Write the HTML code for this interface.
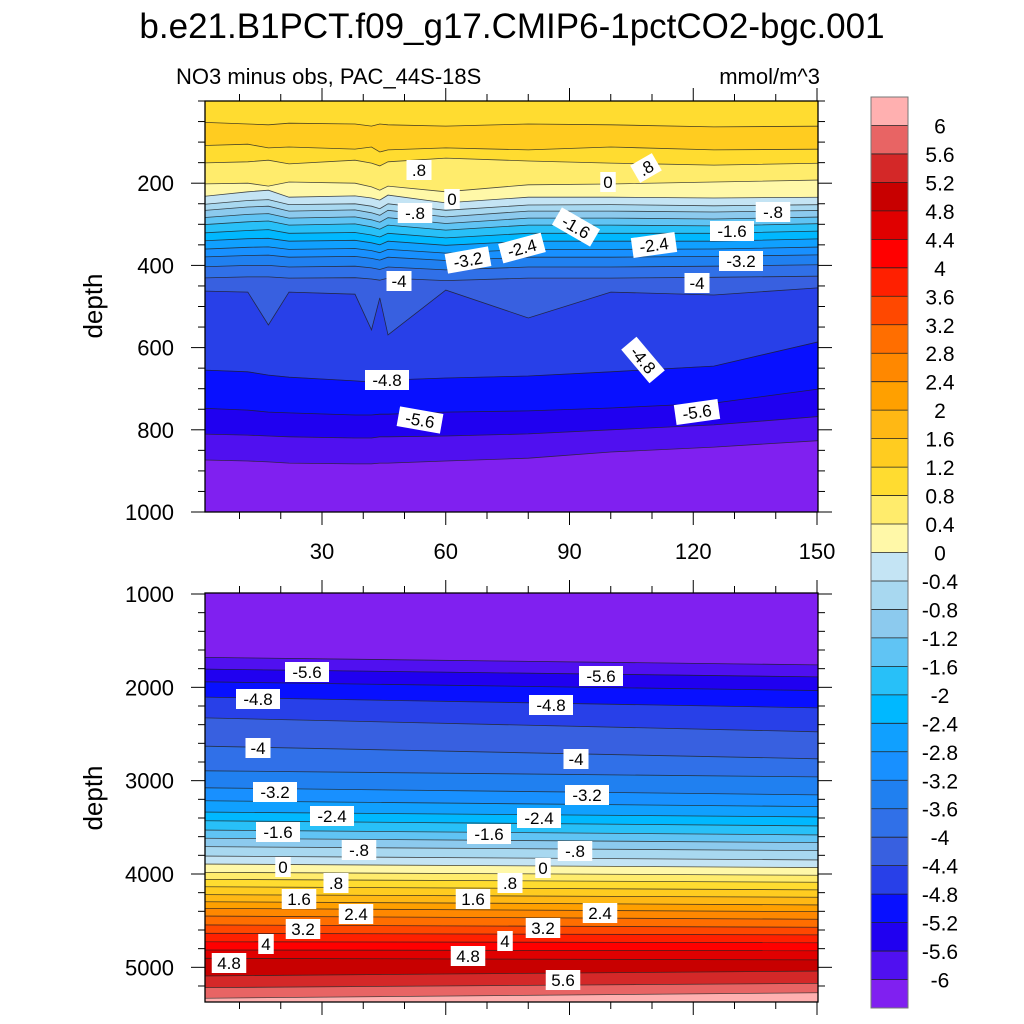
<!DOCTYPE html>
<html><head><meta charset="utf-8"><style>
html,body{margin:0;padding:0;background:#fff;}
svg{display:block;font-family:"Liberation Sans",sans-serif;}
</style></head><body>
<svg id="chart" width="1024" height="1024" viewBox="0 0 1024 1024" xmlns="http://www.w3.org/2000/svg">
<text x="512" y="38" font-size="35" text-anchor="middle">b.e21.B1PCT.f09_g17.CMIP6-1pctCO2-bgc.001</text>
<text x="176" y="84" font-size="22">NO3 minus obs, PAC_44S-18S</text>
<text x="820" y="84" font-size="22" text-anchor="end">mmol/m^3</text>
<text x="102" y="306" font-size="26" text-anchor="middle" transform="rotate(-90 102 306)">depth</text>
<text x="102" y="798" font-size="26" text-anchor="middle" transform="rotate(-90 102 798)">depth</text>
<defs>
<clipPath id="clipTop"><rect x="205" y="101" width="613" height="411"/></clipPath>
<clipPath id="clipBot"><rect x="205" y="593" width="613" height="409"/></clipPath>
</defs>
<g id="topPanel"></g>
<g id="botPanel"></g>
<g id="colorbar"></g>
<g id="labels"></g>
</svg>
<script>
// ---- color scale data ----
const levelColors = ["#8020f0","#5010f0","#2000f0","#0810ff","#2840e8","#3860e0","#3070e8","#2080f0","#1890ff","#10a0ff","#00b8ff","#28c0f8","#60c4f4","#8ccaee","#a8d8f0","#c4e4f4","#fff8a8","#ffec6c","#ffdc30","#ffcc20","#ffb814","#ffa000","#ff8800","#ff6e00","#ff4800","#ff2000","#ff0000","#e00000","#c80000","#d42828","#e86464","#ffb0b0"];
const cbLabels = ["6","5.6","5.2","4.8","4.4","4","3.6","3.2","2.8","2.4","2","1.6","1.2","0.8","0.4","0","-0.4","-0.8","-1.2","-1.6","-2","-2.4","-2.8","-3.2","-3.6","-4","-4.4","-4.8","-5.2","-5.6","-6"];

// ---- top panel data (contour depths at x samples) ----
const topX = [1.5,12,17,22,38,42,44,46,60,80,100,125,150.5];
const topLineLevels = [1.2,1.2,0.8,0.4,0,-0.4,-0.8,-1.2,-1.6,-2,-2.4,-2.8,-3.2,-3.6,-4,-4.4,-4.8,-5.2,-5.6,-6];
const topLineDepths = [
 [51,56,58,54,56,61,56,58,61,56,58,63,61],
 [109,105,114,112,117,112,124,119,114,119,112,119,117],
 [151,148,144,153,144,151,158,148,139,146,151,156,151],
 [202,200,207,197,200,209,217,207,221,204,202,197,192],
 [234,221,217,234,231,236,241,229,248,234,234,236,234],
 [253,242,240,252,250,256,262,250,266,253,252,255,252],
 [268,258,256,268,265,272,278,266,282,268,268,270,266],
 [285,276,274,285,282,289,295,284,298,285,285,287,282],
 [302,294,292,302,299,306,312,302,314,302,302,304,298],
 [322,315,313,322,320,326,331,322,333,322,322,322,316],
 [341,335,334,341,339,345,350,341,351,341,341,341,335],
 [361,356,355,361,359,364,369,361,370,361,361,360,355],
 [380,376,375,380,378,383,387,380,388,380,380,378,374],
 [404,400,400,404,402,406,410,404,411,404,404,402,398],
 [431,428,428,431,430,433,436,431,437,431,431,429,426],
 [462,465,545,465,470,557,479,569,460,528,465,472,453],
 [654,659,667,672,681,684,681,679,674,669,659,645,581],
 [747,752,757,759,764,764,762,762,757,754,747,735,698],
 [810,813,815,817,820,820,817,817,815,810,800,788,766],
 [873,876,878,881,883,883,881,881,876,869,854,842,825]
];
const topBandValues = [1.0,1.4,1.0,0.6,0.2,-0.2,-0.6,-1.0,-1.4,-1.8,-2.2,-2.6,-3.0,-3.4,-3.8,-4.2,-4.6,-5.0,-5.4,-5.8,-6.2];

// ---- bottom panel data ----
const botX = [1.5,150.5];
const botLineLevels = [-6,-5.6,-5.2,-4.8,-4.4,-4,-3.6,-3.2,-2.8,-2.4,-2,-1.6,-1.2,-0.8,-0.4,0,0.4,0.8,1.2,1.6,2,2.4,2.8,3.2,3.6,4,4.4,4.8,5.2,5.6,6];
const botLineDepths = [
 [1678,1761],[1804,1889],[1940,2036],[2104,2221],[2325,2479],[2629,2768],[2893,2961],[3075,3154],
 [3215,3279],[3336,3389],[3429,3486],[3529,3582],[3617,3665],[3707,3750],[3807,3850],[3893,3932],
 [3982,4014],[4057,4089],[4136,4171],[4221,4250],[4297,4332],[4368,4404],[4450,4486],[4546,4571],
 [4635,4653],[4725,4736],[4814,4822],[4903,4921],[5093,5039],[5218,5171],[5332,5272]
];
const botBandValues = [-6.2,-5.8,-5.4,-5.0,-4.6,-4.2,-3.8,-3.4,-3.0,-2.6,-2.2,-1.8,-1.4,-1.0,-0.6,-0.2,0.2,0.6,1.0,1.4,1.8,2.2,2.6,3.0,3.4,3.8,4.2,4.6,5.0,5.4,5.8,6.2];

// tick data
const xTickLabels = [30,60,90,120,150];
const topYTicks = [200,400,600,800,1000];
const botYTicks = [1000,2000,3000,4000,5000];

const NS = "http://www.w3.org/2000/svg";
function mk(tag, attrs, parent){ const e=document.createElementNS(NS,tag); for(const k in attrs) e.setAttribute(k,attrs[k]); parent.appendChild(e); return e; }
function colorFor(v){ let i=Math.floor((v+6)/0.4)+1; if(i<0)i=0; if(i>31)i=31; return levelColors[i]; }

const X0=205, X1=818;
const xs = x => 198.25 + (x)*4.125;
const ysTop = d => 101 + d*0.411;
const ysBot = d => 594 + (d-1000)*0.09333;

function drawPanel(g, clipId, xArr, lines, bands, ys, dTop, dBot, levels){
  const c = mk('g',{'clip-path':'url(#'+clipId+')'},g);
  const topEdge = xArr.map(()=>dTop), botEdge = xArr.map(()=>dBot);
  const all = [topEdge].concat(lines).concat([botEdge]);
  for(let b=0;b<all.length-1;b++){
    const up=all[b], lo=all[b+1];
    let pts=[];
    for(let i=0;i<xArr.length;i++){ let x=xArr[i]; if(i==0)x=xArr[i]-2; if(i==xArr.length-1)x=xArr[i]+2; pts.push(xs(x).toFixed(1)+','+ys(up[i]).toFixed(1)); }
    for(let i=xArr.length-1;i>=0;i--){ let x=xArr[i]; if(i==0)x=xArr[i]-2; if(i==xArr.length-1)x=xArr[i]+2; pts.push(xs(x).toFixed(1)+','+ys(lo[i]).toFixed(1)); }
    const p = mk('polygon',{points:pts.join(' '),fill:colorFor(bands[b]),stroke:colorFor(bands[b]),'stroke-width':'0.6'},c);
    
    
  }
  lines.forEach((ln,li)=>{
    const pts = ln.map((d,i)=>{ let x=xArr[i]; if(i==0)x-=2; if(i==xArr.length-1)x+=2; return xs(x).toFixed(1)+','+ys(d).toFixed(1);}).join(' ');
    const l = mk('polyline',{points:pts,fill:'none',stroke:'#222','stroke-width':'0.8','stroke-opacity':'0.8'},c);
    
    
  });
}

function drawAxes(g, yTop, yBot, ys, yTicks, yMinorStep, dMin, dMax, showX){
  mk('rect',{x:X0,y:yTop,width:X1-X0,height:yBot-yTop,fill:'none',stroke:'#000','stroke-width':'1.3'},g);
  for(let v=10; v<=150; v+=10){
    const x=xs(v), major = v%30==0, L = major?13:7;
    mk('line',{x1:x,x2:x,y1:yBot,y2:yBot+L,stroke:'#000','stroke-width':1},g);
    mk('line',{x1:x,x2:x,y1:yTop,y2:yTop-L,stroke:'#000','stroke-width':1},g);
  }
  for(let d=dMin; d<=dMax; d+=yMinorStep){
    const y=ys(d); if(y<yTop-0.5||y>yBot+0.5) continue;
    const major = yTicks.indexOf(d)>=0, L = major?14:7;
    mk('line',{x1:X0-L,x2:X0,y1:y,y2:y,stroke:'#000','stroke-width':1},g);
    mk('line',{x1:X1,x2:X1+L,y1:y,y2:y,stroke:'#000','stroke-width':1},g);
  }
  yTicks.forEach(d=>{
    const t = mk('text',{x:174,y:ys(d)+8,'font-size':22,'text-anchor':'end'},g);
    t.textContent = d;
    
    
  });
  if(showX){
    xTickLabels.forEach(v=>{
      const t = mk('text',{x:xs(v),y:559,'font-size':22,'text-anchor':'middle'},g);
      t.textContent = v;
      
      
    });
  }
}

const gT=document.getElementById('topPanel'), gB=document.getElementById('botPanel');
drawPanel(gT,'clipTop',topX,topLineDepths,topBandValues,ysTop,-10,1010,topLineLevels);
drawAxes(gT,101,512,ysTop,topYTicks,50,0,1000,true);
drawPanel(gB,'clipBot',botX,botLineDepths,botBandValues,ysBot,980,5400,botLineLevels);
drawAxes(gB,593,1002,ysBot,botYTicks,200,1000,5400,false);

// colorbar
const gC=document.getElementById('colorbar');
const cbTop=97, cbBot=1008, cbH=(cbBot-cbTop)/32;
for(let i=0;i<32;i++){
  const r = mk('rect',{x:871,y:(cbTop+i*cbH).toFixed(2),width:37,height:(cbH+0.3).toFixed(2),fill:levelColors[31-i]},gC);
  
  
}
for(let i=1;i<32;i++){
  mk('line',{x1:871,x2:908,y1:cbTop+i*cbH,y2:cbTop+i*cbH,stroke:'#222','stroke-width':0.8},gC);
}
mk('rect',{x:871,y:cbTop,width:37,height:cbBot-cbTop,fill:'none',stroke:'#777','stroke-width':1},gC);
cbLabels.forEach((s,i)=>{
  const t = mk('text',{x:940,y:(cbTop+(i+1)*cbH+8).toFixed(1),'font-size':21,'text-anchor':'middle'},gC);
  t.textContent = s;
  
  
});

// contour labels
const contourLabels = [
 [".8",419,170,0],["0",452,199,0],["-.8",415,213,0],["0",608,182,0],[".8",646,168,-30],
 ["-1.6",576,227,30],["-2.4",522,248,-15],["-3.2",468,260,-10],["-4",399,281,0],
 ["-.8",773,212,0],["-1.6",732,231,0],["-2.4",654,245,-8],["-3.2",741,261,0],["-4",697,283,0],
 ["-4.8",643,360,50],["-4.8",387,380,0],["-5.6",420,420,10],["-5.6",697,412,-8],
 ["-5.6",307,672,0],["-5.6",601,676,0],["-4.8",258,699,0],["-4.8",551,705,0],["-4",258,748,0],["-4",576,759,0],
 ["-3.2",275,792,0],["-3.2",587,795,0],["-2.4",332,816,0],["-2.4",539,818,0],["-1.6",278,832,0],["-1.6",489,834,0],
 ["-.8",359,850,0],["-.8",575,851,0],["0",283,867,0],["0",543,868,0],[".8",336,883,0],[".8",510,883,0],
 ["1.6",299,899,0],["1.6",473,899,0],["2.4",356,914,0],["2.4",600,913,0],["3.2",303,929,0],["3.2",543,928,0],
 ["4",266,944,0],["4",505,941,0],["4.8",229,963,0],["4.8",468,956,0],["5.6",563,980,0]
];
const gL=document.getElementById('labels');
contourLabels.forEach(([s,x,y,r])=>{
  const g = mk('g',{transform:`translate(${x},${y}) rotate(${r})`},gL);
  
  
  const w = s.length*9.5+6;
  mk('rect',{x:-w/2,y:-10,width:w,height:20,fill:'#fff'},g);
  const t = mk('text',{x:0,y:6,'font-size':17,'text-anchor':'middle'},g);
  t.textContent = s;
});
</script>
</body></html>
